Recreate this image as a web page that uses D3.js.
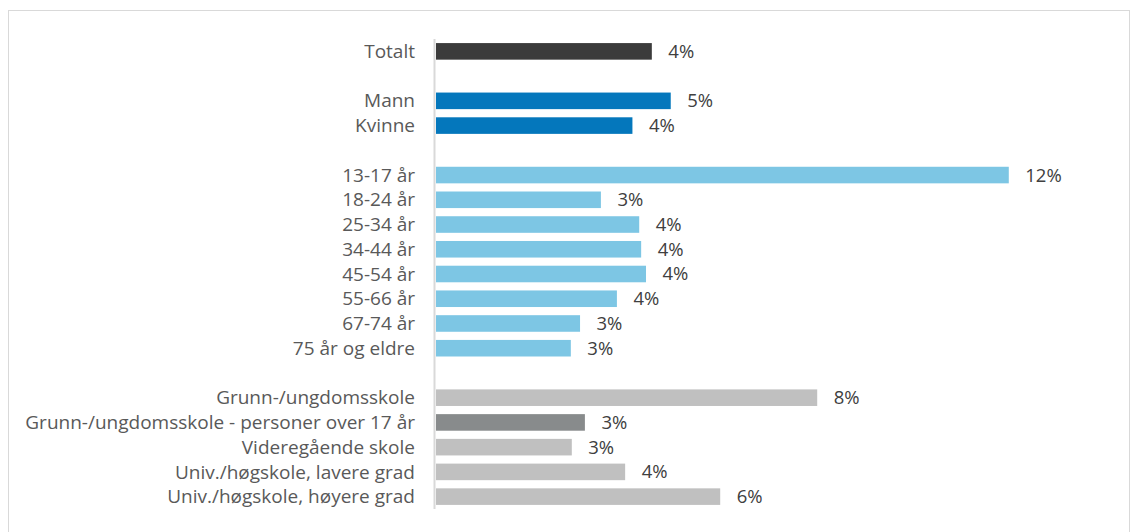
<!DOCTYPE html>
<html>
<head>
<meta charset="utf-8">
<script src="https://cdn.jsdelivr.net/npm/d3@7"></script>
<style>
  html, body { margin: 0; padding: 0; background: #fff; }
  svg { display: block; }
</style>
</head>
<body>
<svg id="chart" width="1131" height="532"></svg>
<script>
// Row order top to bottom; empty strings are spacer rows between groups
const categories = [
  "Totalt", "",
  "Mann", "Kvinne", "",
  "13-17 år", "18-24 år", "25-34 år", "34-44 år", "45-54 år", "55-66 år", "67-74 år", "75 år og eldre", "",
  "Grunn-/ungdomsskole", "Grunn-/ungdomsskole - personer over 17 år", "Videregående skole",
  "Univ./høgskole, lavere grad", "Univ./høgskole, høyere grad"
];
// Share (fraction) for each row; null for spacer rows
const values = [
  0.0445, null,
  0.0484, 0.0405, null,
  0.1181, 0.0340, 0.0419, 0.0423, 0.0433, 0.0373, 0.0297, 0.0278, null,
  0.0786, 0.0307, 0.0280, 0.0390, 0.0586
];
// Group of each row, used for colouring
const groups = [
  "total", null,
  "gender", "gender", null,
  "age", "age", "age", "age", "age", "age", "age", "age", null,
  "edu", "edu17", "edu", "edu", "edu"
];

const colors = {
  total: "#3b3b3b",
  gender: "#0477bc",
  age: "#7dc6e4",
  edu: "#c0c0c0",
  edu17: "#888b8c"
};

const svg = d3.select("#chart");

// Outer frame
svg.append("rect")
  .attr("x", 8.5).attr("y", 10.5)
  .attr("width", 1121).attr("height", 540)
  .attr("fill", "none").attr("stroke", "#d9d9d9").attr("stroke-width", 1);

const x0 = 436;
const x = d3.scaleLinear().domain([0, 0.14]).range([x0, x0 + 14 * 48.5]);
const rowIds = d3.range(categories.length);
const y = d3.scaleBand().domain(rowIds).range([39, 509]).paddingInner(0.33).paddingOuter(0.165);

const rows = rowIds.map(i => ({ i, label: categories[i], value: values[i], group: groups[i] }))
  .filter(d => d.value !== null);

// Bars
svg.append("g").selectAll("rect")
  .data(rows)
  .join("rect")
  .attr("x", x(0))
  .attr("y", d => y(d.i))
  .attr("width", d => x(d.value) - x(0))
  .attr("height", y.bandwidth())
  .attr("fill", d => colors[d.group]);

// Category axis line
svg.append("line")
  .attr("x1", x0 - 1.5).attr("x2", x0 - 1.5)
  .attr("y1", 39).attr("y2", 509)
  .attr("stroke", "#d9d9d9").attr("stroke-width", 2);

const font = "'Open Sans', 'DejaVu Sans', sans-serif";

// Category labels
svg.append("g").selectAll("text")
  .data(rows)
  .join("text")
  .attr("x", 415)
  .attr("y", d => y(d.i) + y.bandwidth() / 2)
  .attr("dy", "0.35em")
  .attr("text-anchor", "end")
  .attr("font-family", font)
  .attr("font-size", 19)
  .attr("fill", "#595959")
  .text(d => d.label);

// Value labels
const fmt = d3.format(".0%");
svg.append("g").selectAll("text")
  .data(rows)
  .join("text")
  .attr("x", d => x(d.value) + 16.5)
  .attr("y", d => y(d.i) + y.bandwidth() / 2)
  .attr("dy", "0.35em")
  .attr("font-family", font)
  .attr("font-size", 18.5)
  .attr("fill", "#404040")
  .text(d => fmt(d.value));
</script>
</body>
</html>
